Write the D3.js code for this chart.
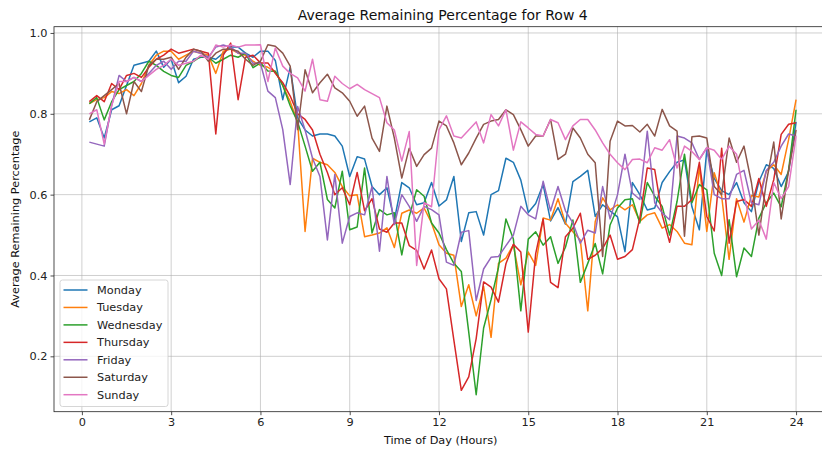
<!DOCTYPE html>
<html>
<head>
<meta charset="utf-8">
<script src="https://cdnjs.cloudflare.com/ajax/libs/d3/7.8.5/d3.min.js"></script>
<style>
  body { margin: 0; background: #fff; }
  svg { display: block; font-family: "DejaVu Sans", sans-serif; }
</style>
</head>
<body>
<svg id="chart" width="822" height="450"></svg>
<script>
// quarter-hour readings, 0.25 .. 24.0 (96 per day)
const hours = d3.range(1, 97).map(i => i / 4);

const days = ["Monday", "Tuesday", "Wednesday", "Thursday", "Friday", "Saturday", "Sunday"];
const colors = ["#1f77b4", "#ff7f0e", "#2ca02c", "#d62728", "#9467bd", "#8c564b", "#e377c2"];

const monday = [
  0.78, 0.79, 0.74, 0.81,  0.82, 0.87, 0.92, 0.925,  0.93, 0.955, 0.915, 0.935,
  0.877, 0.893, 0.935, 0.94,  0.94, 0.935, 0.95, 0.965,  0.965, 0.95, 0.94, 0.955,
  0.955, 0.932, 0.835, 0.915,  0.79, 0.76, 0.745, 0.75,  0.75, 0.745, 0.72, 0.645,
  0.694, 0.688, 0.62, 0.60,  0.617, 0.537, 0.63, 0.617,  0.575, 0.58, 0.63, 0.572,
  0.587, 0.645, 0.484, 0.555,  0.558, 0.50, 0.60, 0.61,  0.69, 0.68, 0.636, 0.556,
  0.578, 0.625, 0.535, 0.568,  0.527, 0.632, 0.645, 0.66,  0.546, 0.575, 0.56, 0.545,
  0.459, 0.63, 0.60, 0.562,  0.567, 0.63, 0.657, 0.68,  0.686, 0.57, 0.513, 0.71,
  0.64, 0.61, 0.60, 0.63,  0.58, 0.558, 0.632, 0.674,  0.665, 0.62, 0.657, 0.78
];
const tuesday = [
  0.825, 0.835, 0.84, 0.855,  0.85, 0.86, 0.845, 0.875,  0.92, 0.945, 0.955, 0.955,
  0.935, 0.945, 0.955, 0.95,  0.945, 0.90, 0.955, 0.96,  0.95, 0.945, 0.93, 0.92,
  0.915, 0.905, 0.87, 0.83,  0.78, 0.509, 0.69, 0.68,  0.674, 0.655, 0.62, 0.597,
  0.60, 0.496, 0.50, 0.505,  0.518, 0.469, 0.554, 0.562,  0.554, 0.567, 0.53, 0.476,
  0.455, 0.45, 0.323, 0.377,  0.30, 0.373, 0.247, 0.43,  0.443, 0.476, 0.377, 0.458,
  0.425, 0.542, 0.537, 0.59,  0.529, 0.508, 0.488, 0.3125,  0.533, 0.592, 0.5625, 0.575,
  0.5625, 0.575, 0.534, 0.55,  0.555, 0.517, 0.526, 0.509,  0.48, 0.476, 0.67, 0.509,
  0.654, 0.596, 0.44, 0.59,  0.532, 0.598, 0.594, 0.658,  0.674, 0.65, 0.736, 0.835
];
const wednesday = [
  0.825, 0.84, 0.785, 0.83,  0.86, 0.87, 0.88, 0.90,  0.93, 0.92, 0.905, 0.895,
  0.89, 0.92, 0.93, 0.942,  0.94, 0.925, 0.935, 0.945,  0.94, 0.95, 0.914, 0.926,
  0.906, 0.905, 0.87, 0.82,  0.78, 0.72, 0.658, 0.68,  0.588, 0.567, 0.658, 0.513,
  0.52, 0.666, 0.505, 0.563,  0.55, 0.555, 0.451, 0.546,  0.612, 0.596, 0.53, 0.505,
  0.464, 0.43, 0.41, 0.26,  0.105, 0.27, 0.34, 0.42,  0.54, 0.49, 0.3125, 0.49,
  0.508, 0.475, 0.496, 0.43,  0.47, 0.5375, 0.383, 0.43,  0.479, 0.404, 0.525, 0.567,
  0.5875, 0.59, 0.53, 0.63,  0.596, 0.571, 0.50, 0.583,  0.70, 0.58, 0.625, 0.612,
  0.455, 0.40, 0.538, 0.397,  0.468, 0.447, 0.542, 0.58,  0.604, 0.57, 0.662, 0.81
];
const thursday = [
  0.83, 0.845, 0.83, 0.875,  0.86, 0.895, 0.90, 0.89,  0.915, 0.935, 0.945, 0.96,
  0.95, 0.955, 0.96, 0.955,  0.95, 0.75, 0.945, 0.975,  0.835, 0.94, 0.945, 0.926,
  0.926, 0.90, 0.877, 0.844,  0.80, 0.786, 0.76, 0.70,  0.655, 0.60, 0.617, 0.575,
  0.655, 0.56, 0.59, 0.515,  0.507, 0.53, 0.53, 0.474,  0.462, 0.416, 0.463, 0.392,
  0.367, 0.24, 0.116, 0.149,  0.244, 0.384, 0.371, 0.334,  0.429, 0.477, 0.458, 0.26,
  0.454, 0.54, 0.383, 0.37,  0.496, 0.517, 0.554, 0.44,  0.45, 0.467, 0.50, 0.44,
  0.447, 0.464, 0.542, 0.666,  0.662, 0.55, 0.482, 0.571,  0.571, 0.588, 0.68, 0.546,
  0.51, 0.715, 0.48, 0.583,  0.588, 0.571, 0.64, 0.571,  0.637, 0.749, 0.774, 0.778
];
const friday = [
  0.73, 0.725, 0.72, 0.82,  0.895, 0.88, 0.89, 0.88,  0.90, 0.92, 0.93, 0.91,
  0.93, 0.93, 0.955, 0.95,  0.94, 0.965, 0.97, 0.965,  0.95, 0.95, 0.925, 0.925,
  0.856, 0.84, 0.761, 0.625,  0.818, 0.76, 0.69, 0.645,  0.488, 0.65, 0.48, 0.546,
  0.555, 0.55, 0.62, 0.46,  0.645, 0.526, 0.60, 0.571,  0.534, 0.571, 0.563, 0.55,
  0.433, 0.425, 0.507, 0.511,  0.338, 0.416, 0.445, 0.447,  0.474, 0.50, 0.571, 0.55,
  0.54, 0.633, 0.56, 0.62,  0.56, 0.53, 0.48, 0.512,  0.505, 0.62, 0.54, 0.60,
  0.70, 0.604, 0.588, 0.757,  0.58, 0.555, 0.538, 0.745,  0.74, 0.728, 0.687, 0.716,
  0.60, 0.59, 0.59, 0.65,  0.66, 0.58, 0.575, 0.66,  0.68, 0.72, 0.75, 0.745
];
const saturday = [
  0.785, 0.83, 0.845, 0.86,  0.875, 0.80, 0.88, 0.855,  0.92, 0.935, 0.935, 0.94,
  0.91, 0.94, 0.96, 0.955,  0.93, 0.95, 0.96, 0.96,  0.955, 0.935, 0.92, 0.93,
  0.971, 0.967, 0.95, 0.918,  0.761, 0.909, 0.852, 0.877,  0.898, 0.864, 0.852, 0.831,
  0.794, 0.819, 0.74, 0.707,  0.819, 0.74, 0.641, 0.715,  0.67, 0.699, 0.715, 0.782,
  0.77, 0.728, 0.674, 0.703,  0.74, 0.774, 0.782, 0.786,  0.81, 0.798, 0.761, 0.72,
  0.745, 0.745, 0.786, 0.687,  0.70, 0.765, 0.74, 0.70,  0.679, 0.447, 0.732, 0.782,
  0.77, 0.771, 0.755, 0.774,  0.745, 0.811, 0.77, 0.757,  0.497, 0.743, 0.745, 0.74,
  0.62, 0.60, 0.74, 0.68,  0.72, 0.63, 0.50, 0.63,  0.73, 0.54, 0.66, 0.76
];
const sunday = [
  0.80, 0.81, 0.725, 0.82,  0.88, 0.88, 0.89, 0.88,  0.895, 0.91, 0.92, 0.935,
  0.92, 0.925, 0.93, 0.945,  0.935, 0.97, 0.965, 0.97,  0.965, 0.97, 0.97, 0.971,
  0.88, 0.963, 0.918, 0.90,  0.889, 0.856, 0.935, 0.835,  0.831, 0.893, 0.875, 0.862,
  0.873, 0.86, 0.85, 0.84,  0.778, 0.76, 0.683, 0.756,  0.425, 0.58, 0.57, 0.76,
  0.795, 0.745, 0.74, 0.76,  0.78, 0.728, 0.798, 0.77,  0.81, 0.71, 0.78, 0.765,
  0.749, 0.745, 0.786, 0.778,  0.736, 0.77, 0.786, 0.786,  0.76, 0.728, 0.70, 0.679,
  0.662, 0.687, 0.688, 0.679,  0.716, 0.71, 0.736, 0.666,  0.72, 0.707, 0.687, 0.716,
  0.71, 0.687, 0.72, 0.70,  0.60, 0.515, 0.537, 0.49,  0.63, 0.59, 0.62, 0.745
];

const xTicks = [0, 3, 6, 9, 12, 15, 18, 21, 24];
const yTicks = [0.2, 0.4, 0.6, 0.8, 1.0];

const series = [monday, tuesday, wednesday, thursday, friday, saturday, sunday];

var svg = d3.select("#chart");
// axes box, right edge runs a bit past the window like the reference
var margin = {left: 54, top: 26.7, right: 831.4, bottom: 411.7};
var fs = 11.3;

var x = d3.scaleLinear().domain([-0.9375, 25.1875]).range([margin.left, margin.right]);
var y = d3.scaleLinear().domain([0.063, 1.0155]).range([margin.bottom, margin.top]);

svg.append("clipPath").attr("id", "clip")
  .append("rect")
  .attr("x", margin.left).attr("y", margin.top)
  .attr("width", margin.right - margin.left).attr("height", margin.bottom - margin.top);

// grid
var grid = svg.append("g").attr("stroke", "#b0b0b0").attr("stroke-width", 0.8).attr("stroke-opacity", 0.75);
grid.selectAll(".gx").data(xTicks).join("line")
  .attr("x1", d => x(d)).attr("x2", d => x(d))
  .attr("y1", margin.top).attr("y2", margin.bottom);
grid.selectAll(".gy").data(yTicks).join("line")
  .attr("x1", margin.left).attr("x2", margin.right)
  .attr("y1", d => y(d)).attr("y2", d => y(d));

// lines
var line = d3.line().x((d, i) => x(hours[i])).y(d => y(d));
svg.append("g").attr("clip-path", "url(#clip)")
  .selectAll("path").data(series).join("path")
  .attr("d", line)
  .attr("fill", "none")
  .attr("stroke", (d, i) => colors[i])
  .attr("stroke-width", 1.5)
  .attr("stroke-linejoin", "round");

// axes
var xAxis = d3.axisBottom(x).tickValues(xTicks).tickSize(3.5).tickPadding(3).tickFormat(d3.format("d"));
var yAxis = d3.axisLeft(y).tickValues(yTicks).tickSize(3.5).tickPadding(3).tickFormat(d3.format(".1f"));

svg.append("g").attr("transform", `translate(0,${margin.bottom})`).call(xAxis)
  .call(g => g.select(".domain").remove());
svg.append("g").attr("transform", `translate(${margin.left},0)`).call(yAxis)
  .call(g => g.select(".domain").remove());
svg.selectAll(".tick text").attr("font-size", fs).attr("fill", "#222").attr("font-family", "DejaVu Sans");
svg.selectAll(".tick line").attr("stroke", "#222").attr("stroke-width", 0.8);

svg.append("rect")
  .attr("x", margin.left).attr("y", margin.top)
  .attr("width", margin.right - margin.left).attr("height", margin.bottom - margin.top)
  .attr("fill", "none").attr("stroke", "#222").attr("stroke-width", 0.8);

// labels
svg.append("text").attr("x", (margin.left + margin.right) / 2).attr("y", 20)
  .attr("text-anchor", "middle").attr("font-size", 14).attr("fill", "#111")
  .text("Average Remaining Percentage for Row 4");
svg.append("text").attr("x", (margin.left + margin.right) / 2 - 2).attr("y", 444)
  .attr("text-anchor", "middle").attr("font-size", fs).attr("fill", "#111")
  .text("Time of Day (Hours)");
svg.append("text")
  .attr("transform", `translate(19,${(margin.top + margin.bottom) / 2}) rotate(-90)`)
  .attr("text-anchor", "middle").attr("font-size", fs).attr("fill", "#111")
  .text("Average Remaining Percentage");

// legend
var lg = svg.append("g").attr("transform", "translate(60,280)");
lg.append("rect").attr("width", 108).attr("height", 126.5).attr("rx", 2.5)
  .attr("fill", "#fff").attr("fill-opacity", 0.8).attr("stroke", "#ccc").attr("stroke-width", 0.8);
var item = lg.selectAll(".item").data(days).join("g")
  .attr("transform", (d, i) => `translate(0,${10 + i * 17.45})`);
item.append("line").attr("x1", 3.5).attr("x2", 27.5)
  .attr("stroke", (d, i) => colors[i]).attr("stroke-width", 1.5);
item.append("text").attr("x", 37).attr("dy", "0.35em")
  .attr("font-size", fs).attr("fill", "#222").text(d => d);
</script>
</body>
</html>
